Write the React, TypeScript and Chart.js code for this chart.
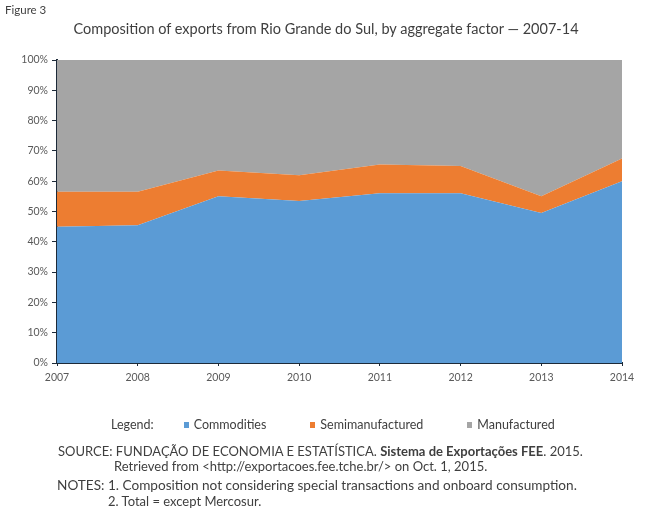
import React, { useEffect, useRef } from "react";
import { Chart, registerables } from "chart.js";

Chart.register(...registerables);

const years = ["2007", "2008", "2009", "2010", "2011", "2012", "2013", "2014"];
const commodities = [45, 45.5, 55, 53.5, 56, 56, 49.5, 60];
const semimanufactured = [11.5, 11, 8.5, 8.5, 9.5, 9, 5.5, 7.5];
const manufactured = [43.5, 43.5, 36.5, 38, 34.5, 35, 45, 32.5];
const seriesNames = ["Commodities", "Semimanufactured", "Manufactured"];
const seriesColors = ["#5B9BD5", "#ED7D31", "#A5A5A5"];
const yTickValues = [0, 10, 20, 30, 40, 50, 60, 70, 80, 90, 100];

const figureLabel = "Figure 3";
const titleText = "Composition of exports from Rio Grande do Sul, by aggregate factor \u2014 2007-14";
const legendPrefix = "Legend:";

const FONT = "Lato, 'Open Sans', 'DejaVu Sans', sans-serif";
const TEXT = "#3f3f3f";
const AXIS = "#1d2a38";

export default function App() {
  const ref = useRef<HTMLCanvasElement | null>(null);

  useEffect(() => {
    if (!ref.current) return;
    const seriesData = [commodities, semimanufactured, manufactured];
    const chart = new Chart(ref.current, {
      type: "line",
      data: {
        labels: years,
        datasets: seriesData.map((d, i) => ({
          label: seriesNames[i],
          data: d,
          backgroundColor: seriesColors[i],
          borderColor: seriesColors[i],
          borderWidth: 0,
          pointRadius: 0,
          tension: 0,
          fill: i === 0 ? "origin" : "-1",
        })),
      },
      options: {
        animation: false,
        responsive: false,
        maintainAspectRatio: false,
        layout: { padding: { left: 0, right: 26, top: 60, bottom: 123 } },
        plugins: {
          legend: { display: false },
          title: { display: false },
          tooltip: { enabled: false },
        },
        scales: {
          x: {
            type: "category",
            offset: false,
            z: 1,
            grid: {
              drawOnChartArea: false,
              drawTicks: true,
              tickLength: 3,
              color: AXIS,
            },
            border: { display: true, color: AXIS, width: 2 },
            ticks: {
              font: { size: 10.5, family: FONT },
              color: "#595959",
              padding: 5,
              maxRotation: 0,
              autoSkip: false,
            },
            afterFit: (s: any) => {
              s.height = 30;
            },
          },
          y: {
            stacked: true,
            min: 0,
            max: 100,
            z: 1,
            afterBuildTicks: (s: any) => {
              s.ticks = yTickValues.map((v) => ({ value: v }));
            },
            grid: {
              drawOnChartArea: false,
              drawTicks: true,
              tickLength: 5,
              color: AXIS,
            },
            border: { display: true, color: AXIS, width: 2 },
            ticks: {
              font: { size: 10.5, family: FONT },
              color: "#595959",
              padding: 4,
              callback: (v: any) => v + "%",
            },
            afterFit: (s: any) => {
              s.width = 57;
            },
          },
        },
      },
    });
    return () => chart.destroy();
  }, []);

  const abs = (left: number, top: number, size: number, extra: any = {}) => ({
    position: "absolute" as const,
    left,
    top,
    fontSize: size,
    lineHeight: `${size + 2}px`,
    fontFamily: FONT,
    color: TEXT,
    whiteSpace: "nowrap" as const,
    ...extra,
  });

  return (
    <div style={{ position: "fixed", left: 0, top: 0, width: 648, height: 516, background: "#fff", overflow: "hidden" }}>
      <canvas ref={ref} width={648} height={516} style={{ position: "absolute", left: 0, top: 0, width: 648, height: 516 }} />
      <div style={abs(5, 3, 11.5)}>{figureLabel}</div>
      <div style={abs(326, 21, 14.5, { transform: "translateX(-50%)" })}>{titleText}</div>
      <div style={{ ...abs(111, 418, 12.5), display: "flex", alignItems: "center" }}>
        <span style={{ marginRight: 30 }}>{legendPrefix}</span>
        {seriesNames.map((n, i) => (
          <span key={n} style={{ display: "flex", alignItems: "center", marginRight: 44 }}>
            <span style={{ display: "inline-block", width: 5, height: 6, background: seriesColors[i], marginRight: 5 }} />
            <span>{n}</span>
          </span>
        ))}
      </div>
      <div style={abs(58, 444, 13)}>
        SOURCE: FUNDAÇÃO DE ECONOMIA E ESTATÍSTICA. <b>Sistema de Exportações FEE</b>. 2015.
      </div>
      <div style={abs(114, 459, 13)}>Retrieved from &lt;http://exportacoes.fee.tche.br/&gt; on Oct. 1, 2015.</div>
      <div style={abs(57, 478, 13.6)}>NOTES: 1. Composition not considering special transactions and onboard consumption.</div>
      <div style={abs(108, 494, 13)}>2. Total = except Mercosur.</div>
    </div>
  );
}
